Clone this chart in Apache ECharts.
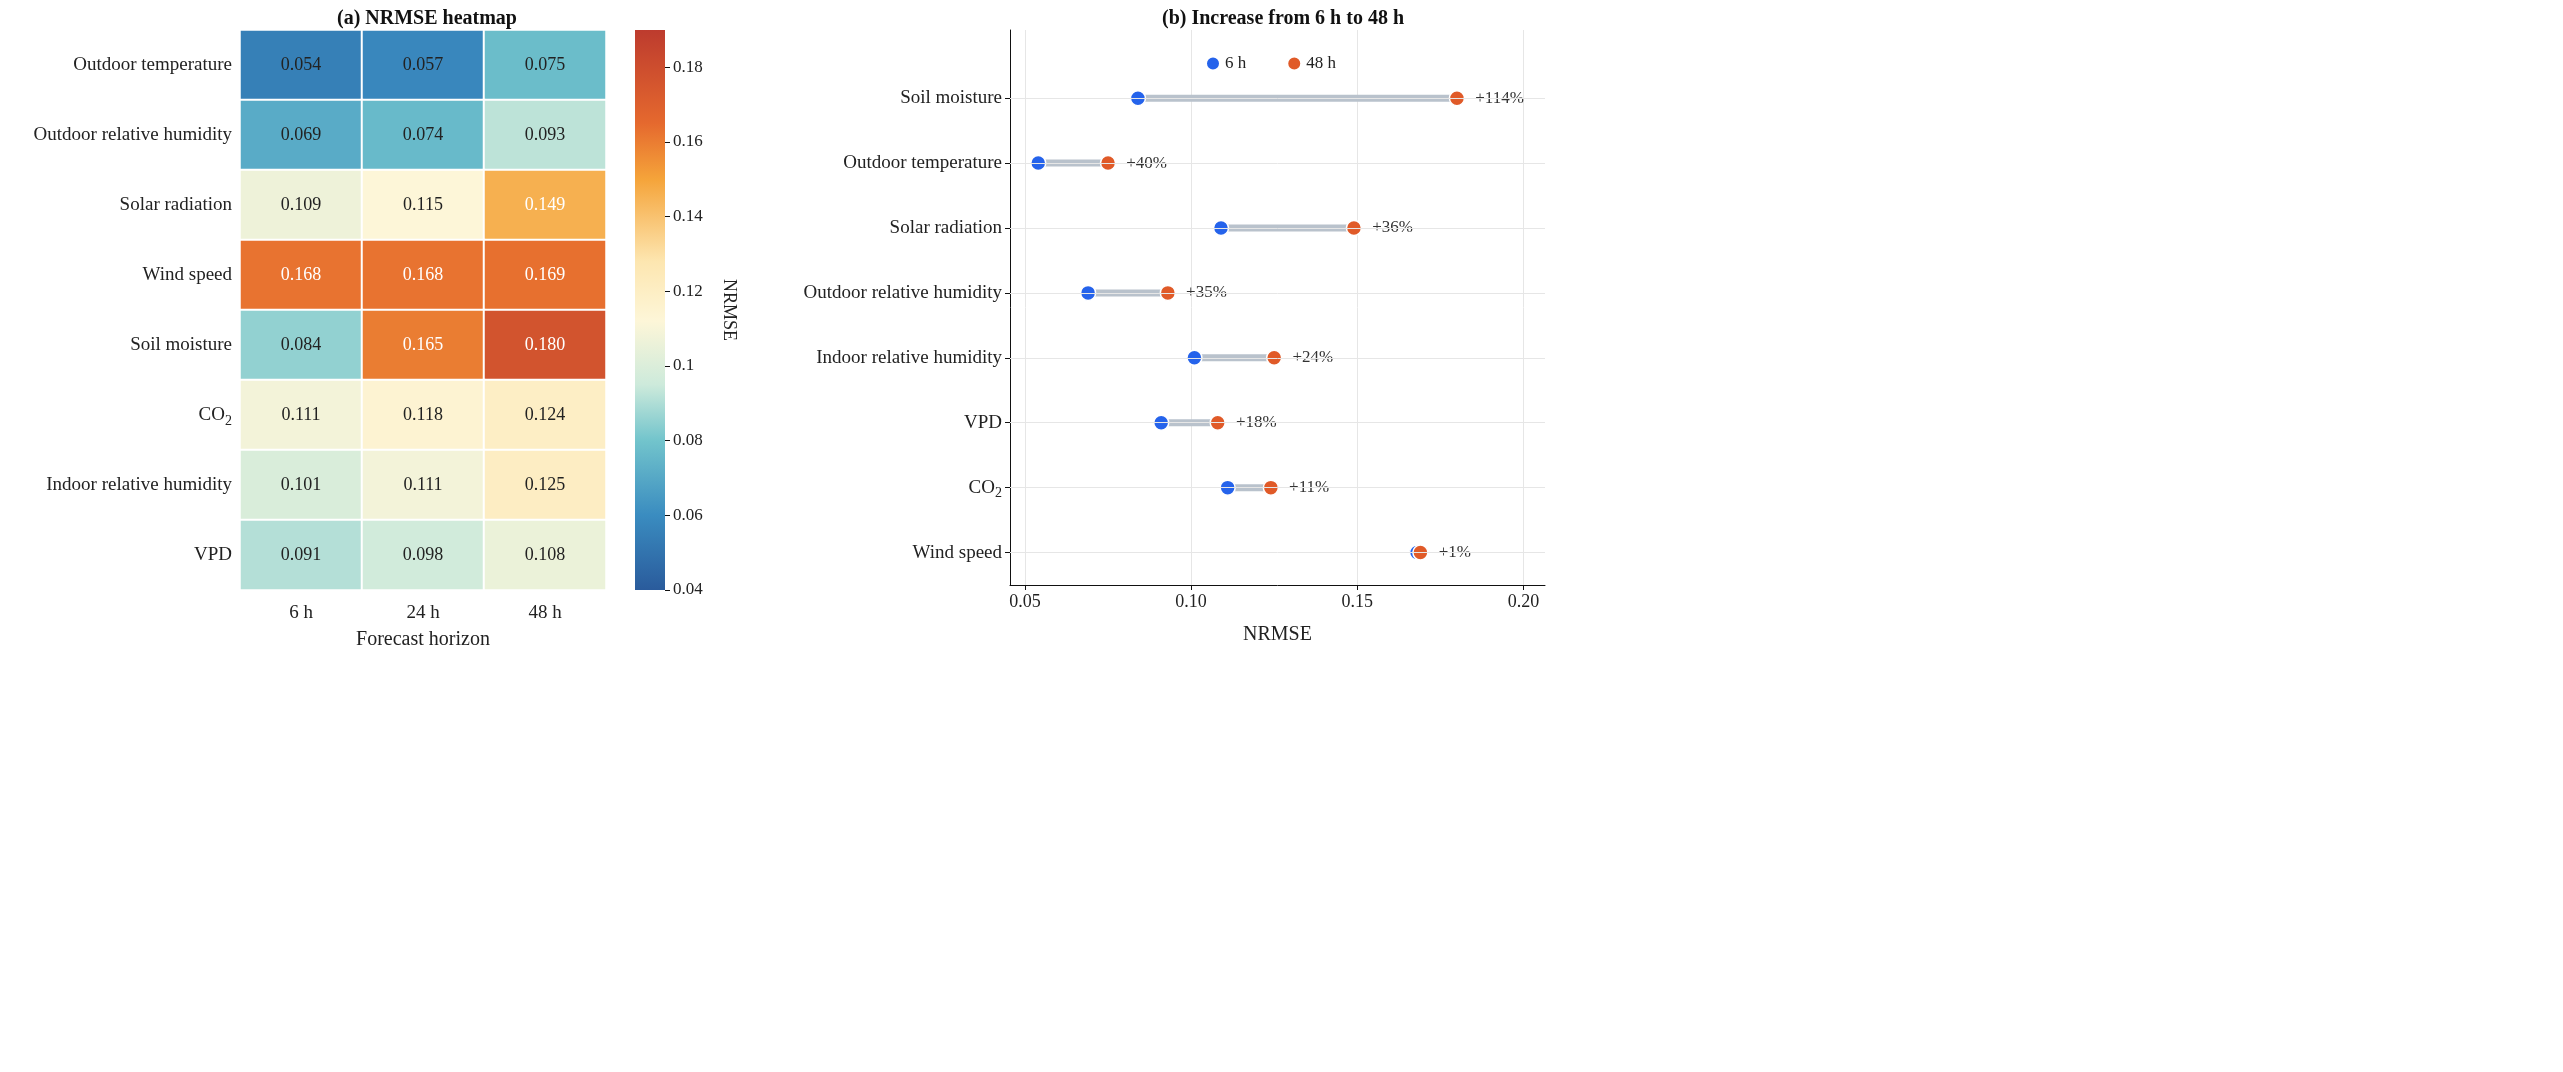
<!DOCTYPE html>
<html><head><meta charset="utf-8">
<script src="https://cdn.jsdelivr.net/npm/echarts@6/dist/echarts.min.js"></script>
<style>html,body{margin:0;background:#fff}#c{width:2563px;height:1072px}</style>
</head><body><div id="c"></div>
<script>
const heatRows = ['Outdoor temperature', 'Outdoor relative humidity', 'Solar radiation', 'Wind speed', 'Soil moisture', 'CO{sub|2}', 'Indoor relative humidity', 'VPD'];
const horizons = ['6 h', '24 h', '48 h'];
const heatValues = [
  [0.054, 0.057, 0.075],
  [0.069, 0.074, 0.093],
  [0.109, 0.115, 0.149],
  [0.168, 0.168, 0.169],
  [0.084, 0.165, 0.180],
  [0.111, 0.118, 0.124],
  [0.101, 0.111, 0.125],
  [0.091, 0.098, 0.108]
];
// right panel, bottom to top
const dumbRows = ['Wind speed', 'CO{sub|2}', 'VPD', 'Indoor relative humidity', 'Outdoor relative humidity', 'Solar radiation', 'Outdoor temperature', 'Soil moisture'];
const val6 = [0.168, 0.111, 0.091, 0.101, 0.069, 0.109, 0.054, 0.084];
const val48 = [0.169, 0.124, 0.108, 0.125, 0.093, 0.149, 0.075, 0.180];
const pctLabels = ['+1%', '+11%', '+18%', '+24%', '+35%', '+36%', '+40%', '+114%'];
const cbTicks = [0.04, 0.06, 0.08, 0.1, 0.12, 0.14, 0.16, 0.18];

const cmap = ['#2a5b9c', '#3a8cc0', '#72c4cc', '#cdeadb', '#fdf6d8', '#fde6b0', '#f5a43a', '#e5692e', '#bd3b2e'];
const cmapPos = [0.04, 0.06, 0.08, 0.095, 0.112, 0.128, 0.15, 0.165, 0.19];
const FONT = 'Liberation Serif';
const rich = { sub: { fontSize: 14, verticalAlign: 'bottom', padding: [12, 0, 0, 0], fontFamily: FONT, color: '#222' } };

const heatData = [];
heatValues.forEach((row, r) => row.forEach((v, c) => heatData.push([c, r, v])));

const chart = echarts.init(document.getElementById('c'));
chart.setOption({
  textStyle: { fontFamily: FONT },
  title: [
    { text: '(a) NRMSE heatmap', left: 422, top: 4, textAlign: 'center', textStyle: { fontFamily: FONT, fontSize: 20, fontWeight: 'bold', color: '#111' } },
    { text: '(b) Increase from 6 h to 48 h', left: 1278, top: 4, textAlign: 'center', textStyle: { fontFamily: FONT, fontSize: 20, fontWeight: 'bold', color: '#111' } }
  ],
  legend: {
    data: ['6 h', '48 h'], left: 1200, top: 50, itemGap: 40, itemWidth: 14, itemHeight: 14,
    textStyle: { fontFamily: FONT, fontSize: 17, color: '#222' }
  },
  visualMap: { show: false, seriesIndex: 0, type: 'continuous', min: 0.04, max: 0.19,
    inRange: { color: cmap } },
  grid: [
    { left: 240, top: 30, width: 366, height: 560 },
    { left: 635, top: 30, width: 30, height: 560 },
    { left: 1010, top: 30, width: 535, height: 555 }
  ],
  xAxis: [
    { gridIndex: 0, type: 'category', data: horizons, name: 'Forecast horizon', nameLocation: 'middle', nameGap: 40,
      nameTextStyle: { fontSize: 20, color: '#222' }, axisLine: { lineStyle: { color: '#111' } }, axisTick: { show: false },
      axisLabel: { fontSize: 19, color: '#222', margin: 14 } },
    { gridIndex: 1, type: 'category', data: [''], show: false },
    { gridIndex: 2, type: 'value', min: 0.0455, max: 0.2065, interval: 0.05,
      name: 'NRMSE', nameLocation: 'middle', nameGap: 40, nameTextStyle: { fontSize: 20, color: '#222' },
      axisLine: { show: true, onZero: false, lineStyle: { color: '#111' } },
      axisTick: { show: true, length: 5, customValues: [0.05, 0.1, 0.15, 0.2], lineStyle: { color: '#111' } },
      axisLabel: { fontSize: 18, color: '#222', formatter: v => v.toFixed(2), customValues: [0.05, 0.1, 0.15, 0.2] },
      splitLine: { show: true, lineStyle: { color: '#e6e6e6' } } }
  ],
  yAxis: [
    { gridIndex: 0, type: 'category', data: heatRows, inverse: true, axisLine: { lineStyle: { color: '#111' } }, axisTick: { show: false },
      axisLabel: { fontSize: 19, color: '#222', margin: 8, rich: rich } },
    { gridIndex: 1, type: 'value', min: 0.04, max: 0.19, position: 'right',
      name: 'NRMSE', nameLocation: 'middle', nameGap: 55, nameRotate: -90, nameTextStyle: { fontSize: 18, color: '#222' },
      axisLine: { show: false }, axisTick: { show: true, length: 5, customValues: cbTicks, lineStyle: { color: '#111' } },
      axisLabel: { fontSize: 17, color: '#222', customValues: cbTicks, formatter: v => String(+v.toFixed(2)) },
      splitLine: { show: false } },
    { gridIndex: 2, type: 'value', min: -0.5, max: 8.05,
      axisLine: { show: true, onZero: false, lineStyle: { color: '#111' } }, axisTick: { show: true, customValues: [0,1,2,3,4,5,6,7], length: 5, lineStyle: { color: '#111' } },
      axisLabel: { fontSize: 19, color: '#222', customValues: [0,1,2,3,4,5,6,7], formatter: v => dumbRows[Math.round(v)], rich: rich },
      splitLine: { show: false } }
  ],
  series: [
    { type: 'heatmap', xAxisIndex: 0, yAxisIndex: 0,
      data: heatData.map(d => ({ value: d, label: { color: d[2] > 0.14 ? '#fff' : '#222' } })),
      itemStyle: { borderColor: '#fff', borderWidth: 2 },
      label: { show: true, fontSize: 18, fontFamily: FONT,
        formatter: p => p.value[2].toFixed(3) },
      emphasis: { disabled: true } },
    { type: 'bar', xAxisIndex: 1, yAxisIndex: 1, data: [0.19], barWidth: '100%', silent: true,
      itemStyle: { color: new echarts.graphic.LinearGradient(0, 1, 0, 0,
        cmap.map((c, i) => ({ offset: (cmapPos[i] - 0.04) / 0.15, color: c }))) } },
    { type: 'custom', xAxisIndex: 2, yAxisIndex: 2, silent: true, z: 2,
      data: dumbRows.map((_, i) => [val6[i], val48[i], i]),
      renderItem: (params, api) => {
        const a = api.coord([api.value(0), api.value(2)]);
        const b = api.coord([api.value(1), api.value(2)]);
        return { type: 'line', shape: { x1: a[0], y1: a[1], x2: b[0], y2: b[1] },
          style: { stroke: '#b9c2cc', lineWidth: 7 } };
      },
      markLine: { silent: true, symbol: 'none', label: { show: false },
        lineStyle: { color: '#e6e6e6', type: 'solid', width: 1 },
        data: dumbRows.map((_, i) => ({ yAxis: i })) } },
    { name: '6 h', type: 'scatter', xAxisIndex: 2, yAxisIndex: 2, z: 3, symbolSize: 15,
      data: val6.map((v, i) => [v, i]),
      itemStyle: { color: '#2563eb', borderColor: '#fff', borderWidth: 1.5, opacity: 1 } },
    { name: '48 h', type: 'scatter', xAxisIndex: 2, yAxisIndex: 2, z: 4, symbolSize: 15,
      data: val48.map((v, i) => [v, i]),
      itemStyle: { color: '#e05a28', borderColor: '#fff', borderWidth: 1.5, opacity: 1 },
      label: { show: true, position: 'right', distance: 10, fontSize: 17, fontFamily: FONT, color: '#333',
        formatter: p => pctLabels[p.dataIndex] } }
  ]
});
</script></body></html>
